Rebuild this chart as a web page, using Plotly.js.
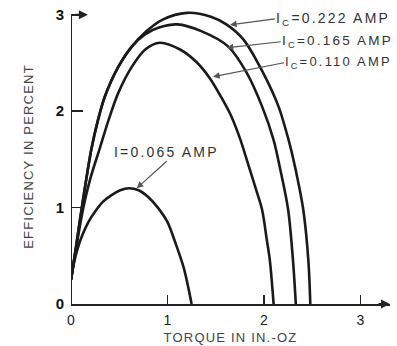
<!DOCTYPE html>
<html>
<head>
<meta charset="utf-8">
<script src="https://cdn.plot.ly/plotly-3.0.1.min.js"></script>
<style>
  html, body { margin: 0; padding: 0; background: #fff; }
  #chart { width: 397px; height: 346px; }
  .annotation-text { letter-spacing: 2.2px; }
  .xtitle, .ytitle { letter-spacing: 1.2px; }
</style>
</head>
<body>
<div id="chart"></div>
<script>
// Torque (in.-oz) and efficiency (%)
const x222 = [0, 0.05, 0.12, 0.21, 0.28, 0.35, 0.49, 0.63, 0.77, 0.95, 1.20, 1.45, 1.61, 1.79, 1.99, 2.15, 2.25, 2.30, 2.36, 2.41, 2.46, 2.48];
const y222 = [0.25, 0.58, 1.05, 1.60, 1.91, 2.15, 2.46, 2.67, 2.82, 2.95, 3.02, 2.98, 2.90, 2.74, 2.40, 2.05, 1.72, 1.52, 1.24, 0.96, 0.45, 0];

const x165 = [0, 0.05, 0.12, 0.21, 0.28, 0.35, 0.49, 0.63, 0.77, 0.92, 1.10, 1.35, 1.63, 1.82, 1.98, 2.10, 2.17, 2.25, 2.30, 2.33];
const y165 = [0.25, 0.58, 1.05, 1.60, 1.91, 2.15, 2.46, 2.67, 2.80, 2.87, 2.90, 2.83, 2.67, 2.40, 2.05, 1.70, 1.39, 0.98, 0.46, 0];

const x110 = [0, 0.05, 0.12, 0.20, 0.30, 0.39, 0.49, 0.63, 0.77, 0.92, 1.13, 1.30, 1.44, 1.56, 1.66, 1.75, 1.83, 1.92, 1.98, 2.03, 2.06, 2.10];
const y110 = [0.25, 0.56, 0.96, 1.30, 1.62, 1.91, 2.19, 2.46, 2.64, 2.71, 2.64, 2.51, 2.34, 2.14, 1.95, 1.72, 1.47, 1.18, 0.98, 0.66, 0.46, 0];

const x065 = [0, 0.03, 0.07, 0.12, 0.18, 0.25, 0.33, 0.42, 0.51, 0.60, 0.70, 0.80, 0.90, 1.00, 1.08, 1.17, 1.25];
const y065 = [0.25, 0.42, 0.58, 0.72, 0.85, 0.96, 1.06, 1.13, 1.18, 1.20, 1.18, 1.11, 1.00, 0.85, 0.64, 0.37, 0];

const seriesLabels = ['I<sub>C</sub>=0.222 AMP', 'I<sub>C</sub>=0.165 AMP', 'I<sub>C</sub>=0.110 AMP', 'I=0.065 AMP'];
const xTicks = [0, 1, 2, 3];
const yTicks = [0, 1, 2, 3];

const lineStyle = {color: '#1a1a1a', width: 2.6, shape: 'spline', smoothing: 0.9};
const mk = (x, y) => ({x: x, y: y, type: 'scatter', mode: 'lines', line: lineStyle, hoverinfo: 'skip', showlegend: false});

const data = [mk(x222, y222), mk(x165, y165), mk(x110, y110), mk(x065, y065)];

const fam = '"Liberation Sans", Arial, sans-serif';
const arrowCol = '#555';
function pointer(x, y, ax, ay, t, size, xa, ya) {
  return {x: x, y: y, xref: 'x', yref: 'y', ax: ax, ay: ay, axref: 'pixel', ayref: 'pixel',
          text: t, showarrow: true, arrowhead: 2, arrowsize: 1.1, arrowwidth: 1.2, arrowcolor: arrowCol,
          standoff: 0, xanchor: xa, yanchor: ya, borderpad: 0,
          font: {family: fam, size: size, color: '#333'}};
}

const layout = {
  width: 397, height: 346,
  margin: {l: 71, r: 7, t: 9, b: 42},
  paper_bgcolor: '#fff', plot_bgcolor: '#fff',
  font: {family: fam, color: '#222'},
  xaxis: {
    range: [0, 3.306], tickvals: xTicks, ticktext: xTicks.map(String),
    ticks: 'inside', ticklen: 9, tickwidth: 1.5, tickcolor: '#222',
    showline: true, linecolor: '#222', linewidth: 2,
    showgrid: false, zeroline: false,
    tickfont: {family: fam, size: 14, color: '#222'},
    ticklabelstandoff: 2,
    title: {text: 'TORQUE IN IN.-OZ', font: {family: fam, size: 13, color: '#444'}, standoff: 6}
  },
  yaxis: {
    range: [0, 3.06], tickvals: yTicks, ticktext: yTicks.map(String),
    ticks: 'inside', ticklen: 12, tickwidth: 1.5, tickcolor: '#222',
    showline: false, showgrid: false, zeroline: false,
    tickfont: {family: fam, size: 15, color: '#111', weight: 'bold'},
    ticklabelstandoff: 6,
    title: {text: 'EFFICIENCY IN PERCENT', font: {family: fam, size: 13, color: '#444'}, standoff: 19}
  },
  shapes: [
    {type: 'line', xref: 'x', yref: 'y', x0: 0, x1: 0, y0: 0, y1: 3, line: {color: '#222', width: 2}}
  ],
  annotations: [
    // axis arrows
    {x: 0.175, y: 3, xref: 'x', yref: 'y', ax: -17, ay: 0, axref: 'pixel', ayref: 'pixel', text: ' ',
     showarrow: true, arrowhead: 2, arrowsize: 0.9, arrowwidth: 2, arrowcolor: '#222', standoff: 0},
    {x: 3.306, y: 0, xref: 'x', yref: 'y', ax: -16, ay: 0, axref: 'pixel', ayref: 'pixel', text: ' ',
     showarrow: true, arrowhead: 2, arrowsize: 0.9, arrowwidth: 2, arrowcolor: '#222', standoff: 0},
    // series labels with pointer arrows
    pointer(1.648, 2.896, 45, -6, seriesLabels[0], 14, 'left', 'middle'),
    pointer(1.613, 2.658, 54, -6, seriesLabels[1], 13.5, 'left', 'middle'),
    pointer(1.472, 2.357, 71, -14, seriesLabels[2], 13, 'left', 'middle'),
    pointer(0.681, 1.201, 30, -27, seriesLabels[3], 14, 'center', 'bottom')
  ]
};

Plotly.newPlot('chart', data, layout, {displayModeBar: false, staticPlot: true});
</script>
</body>
</html>
